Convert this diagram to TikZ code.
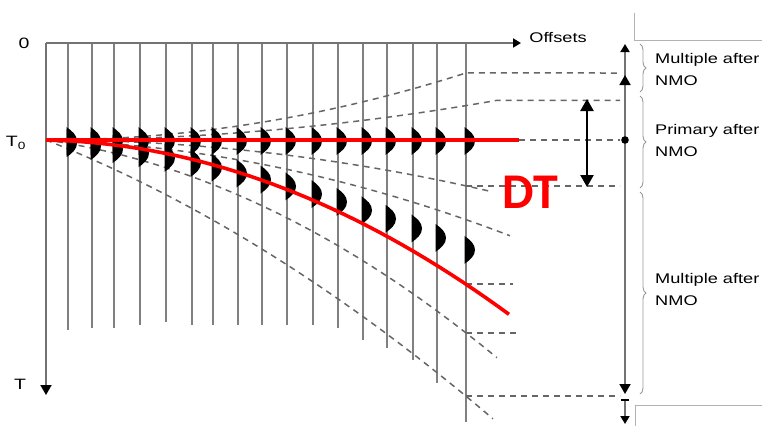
\documentclass[tikz,border=0pt]{standalone}
\usepackage{fontspec}
\newfontfamily\labelfont[FakeStretch=1.3]{Liberation Sans}
\newfontfamily\dtfont{Carlito}
\usetikzlibrary{arrows.meta,decorations.pathreplacing}

\tikzset{
	tipbig/.tip={Triangle[black,length=10pt,width=11pt]},
	tipsmall/.tip={Triangle[black,length=8pt,width=9pt]}
}

\newcommand{\wavelet}[2]{\fill[black] (#1-1.5,#2-14) .. controls (#1+4,#2-10) and (#1+9,#2-6) .. (#1+9,#2) .. controls (#1+9,#2+6) and (#1+4,#2+10) .. (#1-1.5,#2+14) -- cycle;}

\begin{document}
\begin{tikzpicture}[x=1pt,y=-1pt,
		trace/.style={draw=black!50,line width=2pt},
		axisline/.style={draw=black!55,line width=1.8pt},
		moveout/.style={draw=black!60,line width=1.5pt,dash pattern=on 6pt off 5pt},
		redline/.style={draw=red,line width=3.6pt},
		lbl/.style={font=\labelfont\fontsize{15}{22}\selectfont,text=black,inner sep=0pt},
		sidelbl/.style={lbl,font=\labelfont\fontsize{14}{22}\selectfont,anchor=north west,align=left},
		bracestyle/.style={draw=black!40,line width=0.9pt,decorate,decoration={brace,amplitude=6pt}}]
	\clip (0,0) rectangle (762,426);
	% traces
	\foreach \tx/\tb in {68/330,92/328,114/328,140/325,166/322,192/325,213/325,238/325,262/325,287/325,313/325,338/328,363/340,387/348,413/360,437/383,466/422}
		\draw[trace] (\tx,43) -- (\tx,\tb);
	% axes
	\coordinate (orig) at (46,43);
	\coordinate (xend) at (521,43);
	\coordinate (tend) at (46,395);
	\draw[axisline,-{tipsmall}] (orig) -- (xend);
	\draw[axisline,-{tipbig}] (orig) -- (tend);
	% moveout curves
	\draw[moveout] plot[domain=0:4.2,samples=30] ({46+100*\x},{140-3.8*\x*\x}) -- (620,73);
	\draw[moveout] plot[domain=0:4.51,samples=30] ({46+100*\x},{140-1.95*\x*\x}) -- (620,100.3);
	\draw[moveout] plot[domain=0:4.44,samples=30] ({46+100*\x},{140+2.6*\x*\x});
	\draw[moveout] plot[domain=0:4.64,samples=30] ({46+100*\x},{140+3*\x+3.8*\x*\x});
	\draw[moveout] plot[domain=0:4.2,samples=30] ({46+100*\x},{140+2*\x+7.7*\x*\x});
	\draw[moveout] plot[domain=0:4.51,samples=30] ({46+100*\x},{140+14*\x+7.6*\x*\x});
	\draw[moveout] plot[domain=0:4.47,samples=30] ({46+100*\x},{140+39.4*\x+5.14*\x*\x});
	\draw[moveout] (466,186) -- (620,186);
	\draw[moveout] (466,284) -- (513,284);
	\draw[moveout] (466,333) -- (518,333);
	\draw[moveout] (466,396) -- (620,396);
	\draw[moveout] (519,140) -- (620,140);
	% wavelets
	\foreach \tx in {68,92,114,140,166,192,213,238,262,287,313,338,363,387,413,437,466} {
		\pgfmathsetmacro\u{(\tx-46)/100}
		\pgfmathsetmacro\wy{141+9.3*\u+3.96*\u*\u}
		\wavelet{\tx}{141}
		\wavelet{\tx}{\wy}
	}
	% picked events
	\draw[redline] (46,140) -- (519,140);
	\draw[redline] plot[domain=0:4.63,samples=40] ({46+100*\x},{140+2*\x+7.7*\x*\x});
	\node[text=red,font=\dtfont\bfseries\fontsize{50}{50}\selectfont,inner sep=0pt] (dt) at (530,192) {DT};
	% labels
	\node[lbl] (zero) at (24,43) {0};
	\node[lbl] (tzero) at (16,143) {T\textsubscript{0}};
	\node[lbl] (tlab) at (20,384) {T};
	\node[lbl,font=\labelfont\fontsize{14}{16}\selectfont] (offs) at (558,37) {Offsets};
	% time window
	\coordinate (dtop) at (587,99);
	\coordinate (dbot) at (587,187);
	\draw[line width=2.4pt,{Triangle[length=12pt,width=13pt]}-{Triangle[length=12pt,width=13pt]}] (dtop) -- (dbot);
	% right axis
	\coordinate (rtop) at (625,44);
	\coordinate (rmid) at (625,75);
	\coordinate (rbot) at (625,394);
	\draw[axisline,{tipsmall}-{tipbig}] (rtop) -- (rbot);
	\draw[axisline,-{tipbig}] (625,92) -- (rmid);
	\fill[black] (625,140) circle[radius=3.8pt];
	\draw[axisline,{Bar[black,width=8pt]}-{tipsmall}] (625,399) -- (625,424);
	\draw[bracestyle] (640,44) -- (640,92);
	\draw[bracestyle] (640,96) -- (640,188);
	\draw[bracestyle] (640,192) -- (640,394);
	\node[sidelbl] (multop) at (655,53) {Multiple after\\NMO};
	\node[sidelbl] (prim) at (655,124) {Primary after\\NMO};
	\node[sidelbl] (mulbot) at (655,273) {Multiple after\\NMO};
	% frame remnants
	\draw[black!30,line width=0.8pt] (634,13) -- (634,40) -- (762,40);
	\draw[black!30,line width=0.8pt] (635,426) -- (635,405) -- (762,405);
\end{tikzpicture}
\end{document}
